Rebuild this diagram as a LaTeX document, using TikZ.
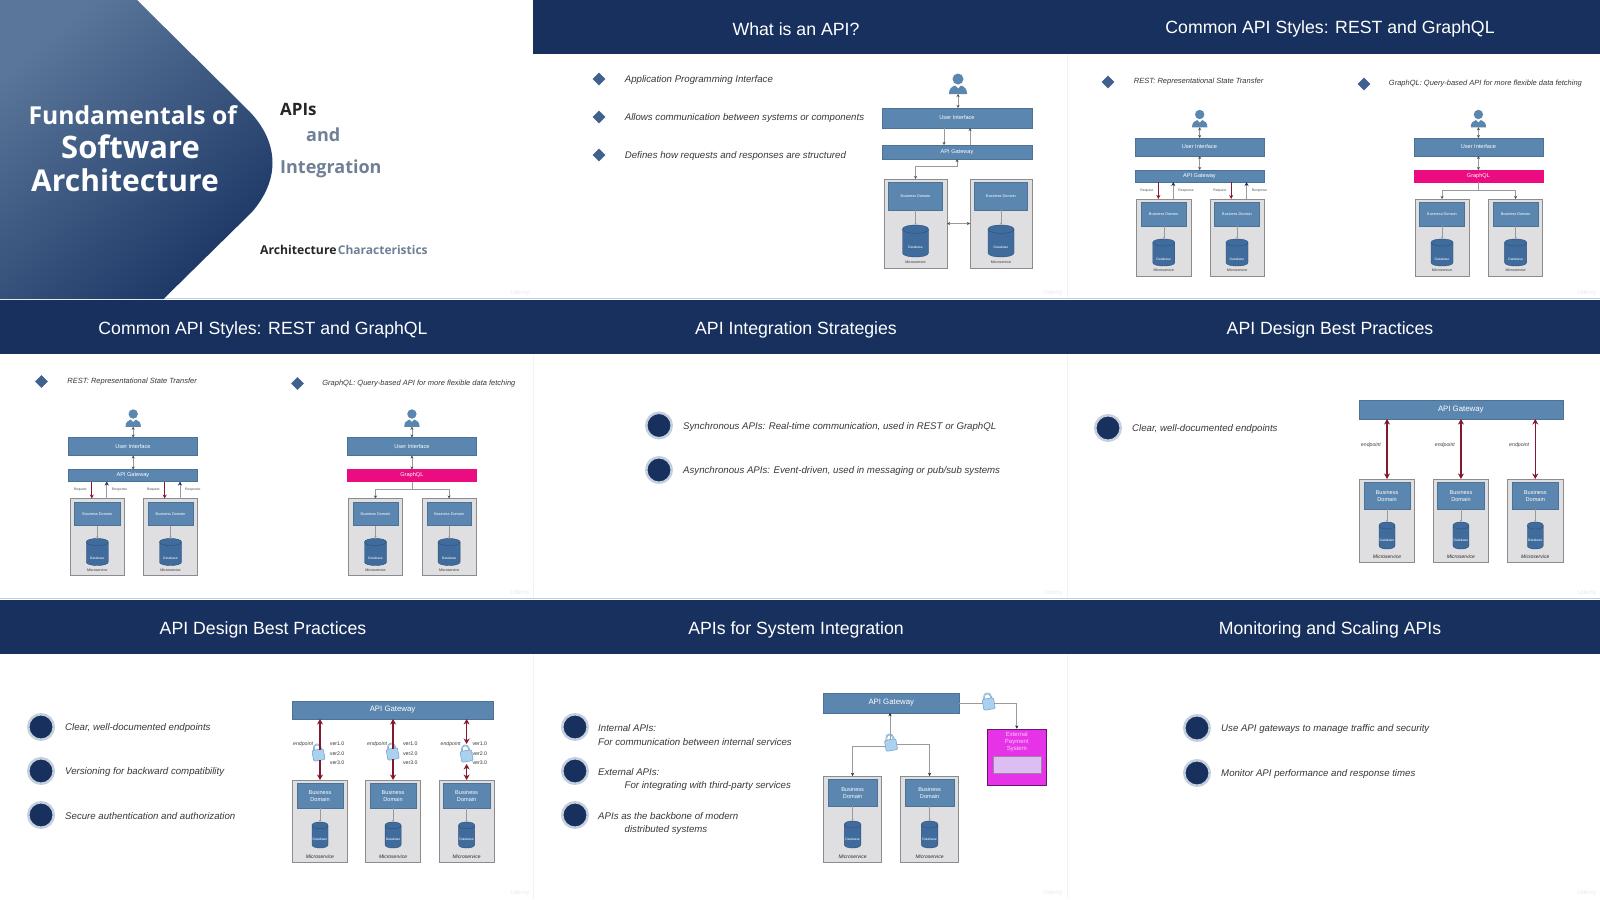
\documentclass[tikz,border=0pt]{standalone}
\usepackage{fontspec}
\setmainfont{Liberation Sans}
\newfontfamily\coverfont{Open Sans}
\usetikzlibrary{arrows.meta,positioning,shapes.geometric}

\definecolor{slidenavy}{HTML}{17305E}
\definecolor{coverlight}{HTML}{5A7699}
\definecolor{coverdark}{HTML}{1C3765}
\definecolor{covergray}{HTML}{6F7F95}
\definecolor{boxblue}{HTML}{5A86B0}
\definecolor{dbblue}{HTML}{3F6B9D}
\definecolor{frameedge}{HTML}{8C8C8E}
\definecolor{framefill}{HTML}{DFDFE1}
\definecolor{ringblue}{HTML}{C4CFDE}
\definecolor{diamondblue}{HTML}{3F618E}
\definecolor{linkgray}{HTML}{9A9A9C}
\definecolor{apired}{HTML}{85182F}
\definecolor{hotpink}{HTML}{EA0C80}
\definecolor{extmagenta}{HTML}{E733E8}
\definecolor{extinner}{HTML}{DDBDF2}
\definecolor{lockblue}{HTML}{AAD2F0}
\definecolor{lockedge}{HTML}{6E9CC6}

\tikzset{
  headband/.style={fill=slidenavy, inner sep=0pt, outer sep=0pt},
  headtext/.style={text=white, font=\fontsize{17.7}{20}\selectfont},
  bulletdot/.style={circle, fill=slidenavy, draw=ringblue, line width=2.5pt, minimum size=25.5pt, inner sep=0pt},
  bulletdiamond/.style={diamond, fill=diamondblue, minimum size=13pt, inner sep=0pt},
  bullettext/.style={anchor=west, inner sep=0pt, yshift=-1pt, text=black!78, font=\fontsize{9.65}{12}\selectfont\itshape},
  smalltext/.style={anchor=west, inner sep=0pt, text=black!78, font=\fontsize{7.5}{10}\selectfont\itshape},
  bluebox/.style={fill=boxblue, draw=boxblue!85!black, line width=.3pt, text=white, inner sep=0pt, outer sep=0pt, align=center},
  msframe/.style={fill=framefill, draw=frameedge, line width=.8pt, inner sep=0pt, outer sep=0pt},
  dbspot/.style={inner sep=0pt, outer sep=0pt},
  dbskin/.style={fill=dbblue, draw=dbblue!75!black, line width=.4pt},
  % tiny type, as on the two-box diagrams
  domlabel/.style={font=\fontsize{3.8}{4.5}\selectfont},
  dblabel/.style={text=white, font=\fontsize{3.4}{4}\selectfont, yshift=-6.5pt},
  mslabel/.style={text=black!80, font=\fontsize{3.6}{4}\selectfont},
  % larger type, as on the gateway diagrams
  bigtype/.style={
    domlabel/.style={font=\fontsize{5.6}{6.8}\selectfont},
    dblabel/.style={text=white, font=\fontsize{3.4}{4}\selectfont, yshift=-4.5pt},
    mslabel/.style={text=black!85, font=\fontsize{5}{6}\selectfont\itshape}},
  boxtext/.style={font=\fontsize{5.6}{6.8}\selectfont},
  gwtext/.style={font=\fontsize{7.8}{9}\selectfont},
  linkarrow/.style={<->, draw=linkgray, line width=.5pt, >={Stealth[length=3pt,width=3pt,color=black!70]}},
  splitline/.style={draw=linkgray, line width=.5pt, >={Stealth[length=3pt,width=3pt,color=black!70]}},
  domarrow/.style={->, draw=linkgray, line width=.35pt, >={Stealth[length=2pt,width=2pt]}},
  redarrow/.style={draw=apired, line width=1.5pt, >={Stealth[length=5.5pt,width=6pt]}},
  reqarrow/.style={->, draw=apired, line width=.8pt, >={Stealth[length=4pt,width=4pt]}},
  resparrow/.style={->, draw=linkgray, line width=.8pt, >={Stealth[length=4pt,width=4pt,color=slidenavy]}},
  grayarrow/.style={draw=linkgray, line width=.7pt, >={Stealth[length=3.2pt,width=3.2pt,color=black!85]}},
  tinylabel/.style={text=black!70, font=\fontsize{3.4}{4}\selectfont},
  endlabel/.style={text=black!75, font=\fontsize{5.2}{6}\selectfont\itshape},
  verlabel/.style={anchor=west, inner sep=0pt, text=black!80, font=\fontsize{5.2}{6}\selectfont},
  lockbody/.style={rectangle, rounded corners=1.2pt, fill=lockblue, draw=lockedge, line width=.5pt,
    minimum width=11.5pt, minimum height=11pt, inner sep=0pt, outer sep=0pt},
  watermark/.style={text=black!8, font=\fontsize{6}{7}\selectfont},
}

% a box given by its corners, in pixels of the slide sheet
\newcommand{\pxbox}[7][]{\node[minimum width={((#5)-(#3))*1pt}, minimum height={((#6)-(#4))*1pt}, #1] (#2) at ({((#3)+(#5))/2},{((#4)+(#6))/2}) {#7};}

% name, x left, x right, y top, y bottom, domain bottom, db top, db bottom, db width
\newcommand{\msbox}[9]{
  \pxbox[msframe]{#1}{#2}{#4}{#3}{#5}{}
  \pxbox[bluebox, domlabel]{#1-dom}{#2+4.5}{#4+3.5}{#3-4.5}{#6}{\domname}
  \node[dbspot, minimum width={(#9)*1pt}, minimum height={((#8)-(#7))*1pt}] (#1-db) at ({((#2)+(#3))/2},{((#7)+(#8))/2}) {};
  \pgfmathsetmacro{\dbcap}{((#8)-(#7))*.13}
  \filldraw[dbskin] ([yshift=-\dbcap pt]#1-db.north west) .. controls ([yshift=\dbcap/3*1pt]#1-db.north west) and ([yshift=\dbcap/3*1pt]#1-db.north east) .. ([yshift=-\dbcap pt]#1-db.north east)
    -- ([yshift=\dbcap pt]#1-db.south east) .. controls ([yshift=-\dbcap/3*1pt]#1-db.south east) and ([yshift=-\dbcap/3*1pt]#1-db.south west) .. ([yshift=\dbcap pt]#1-db.south west) -- cycle;
  \draw[dbskin, fill=none] ([yshift=-\dbcap pt]#1-db.north west) .. controls ([yshift=-\dbcap*7/3*1pt]#1-db.north west) and ([yshift=-\dbcap*7/3*1pt]#1-db.north east) .. ([yshift=-\dbcap pt]#1-db.north east);
  \node[dblabel] (#1-dbname) at (#1-db.center) {Database};
  \node[mslabel] (#1-msname) at ({((#2)+(#3))/2},{(#5)-5.5}) {Microservice};
  \draw[domarrow] (#1-dom.south) -- (#1-db.north);
}

% name, x, y of the head, scale
\newcommand{\usericon}[4]{
  \begin{scope}[shift={(#2,#3)}, scale=#4]
    \fill[boxblue] (-9,15) .. controls (-9,9.5) and (-6.5,8) .. (-3,6.5) -- (0,9.5) -- (3,6.5) .. controls (6.5,8) and (9,9.5) .. (9,15) -- cycle;
    \node[circle, fill=boxblue, minimum size={11pt*#4}, inner sep=0pt] (#1-head) at (0,0) {};
    \coordinate (#1) at (0,15);
  \end{scope}
}

% name, x, y of the body
\newcommand{\lockicon}[3]{
  \begin{scope}[shift={(#2,#3)}, rotate=10]
    \draw[lockedge, line width=1.5pt] (-3.5,0) -- (-3.5,-7) .. controls (-3.5,-12) and (3.5,-12) .. (3.5,-7) -- (3.5,0);
    \draw[lockblue, line width=.7pt] (-3.5,-1) -- (-3.5,-7) .. controls (-3.5,-12) and (3.5,-12) .. (3.5,-7) -- (3.5,-1);
    \node[lockbody, transform shape] (#1) at (0,0) {};
  \end{scope}
}

% the REST and GraphQL slide, it comes twice
\newcommand{\styleslide}{
  \def\domname{Business Domain}
  % left: REST
  \node[bulletdiamond] (rest) at (1108,82) {};
  \node[smalltext, right=19pt of rest] (resttext) {REST: Representational State Transfer};
  \usericon{ruser}{1199.7}{114.5}{.85}
  \pxbox[bluebox, boxtext]{rui}{1134.8}{138}{1264}{156}{User Interface}
  \pxbox[bluebox, boxtext]{rgw}{1134.8}{170}{1264}{182}{API Gateway}
  \msbox{rone}{1136.5}{1191}{199}{276}{226}{239}{266}{22}
  \msbox{rtwo}{1210}{1264}{199}{276}{226}{239}{266}{22}
  \draw[linkarrow] (ruser) -- (rui.north -| ruser);
  \draw[linkarrow] (rui.south -| ruser) -- (rgw.north -| ruser);
  \draw[reqarrow] ([xshift=-5.4pt]rone.north |- rgw.south) -- ([xshift=-5.4pt]rone.north) node[midway, left=1.5pt, tinylabel] {Request};
  \draw[resparrow] ([xshift=9.5pt]rone.north) -- ([xshift=9.5pt]rone.north |- rgw.south) node[midway, right=1.5pt, tinylabel] {Response};
  \draw[reqarrow] ([xshift=-5.8pt]rtwo.north |- rgw.south) -- ([xshift=-5.8pt]rtwo.north) node[midway, left=1.5pt, tinylabel] {Request};
  \draw[resparrow] ([xshift=9.5pt]rtwo.north) -- ([xshift=9.5pt]rtwo.north |- rgw.south) node[midway, right=1.5pt, tinylabel] {Response};

  % right: GraphQL
  \node[bulletdiamond] (gql) at (1364,84) {};
  \node[smalltext, right=18pt of gql] (gqltext) {GraphQL: Query-based API for more flexible data fetching};
  \usericon{guser}{1478.4}{114.5}{.85}
  \pxbox[bluebox, boxtext]{gui}{1413.8}{138}{1543}{156}{User Interface}
  \pxbox[bluebox, boxtext, fill=hotpink, draw=hotpink]{ggw}{1413.8}{170}{1543}{182}{GraphQL}
  \msbox{gone}{1415}{1469}{199}{276}{226}{239}{266}{22}
  \msbox{gtwo}{1488.8}{1542.4}{199}{276}{226}{239}{266}{22}
  \coordinate (gsplit) at (1478.4,190);
  \draw[linkarrow] (guser) -- (gui.north -| guser);
  \draw[linkarrow] (gui.south -| guser) -- (ggw.north -| guser);
  \draw[splitline] (ggw.south -| gsplit) -- (gsplit);
  \draw[splitline, ->] (gsplit) -| (gone.north);
  \draw[splitline, ->] (gsplit) -| (gtwo.north);
}

\begin{document}
\begin{tikzpicture}[x=1pt, y=-1pt, >=Stealth]
  \useasboundingbox (0,0) rectangle (1600,899);
  \fill[white] (0,0) rectangle (1600,899);

  % bands and slide edges
  \pxbox[headband]{bandone}{533}{0}{1600}{54}{}
  \pxbox[headband]{bandtwo}{0}{300}{1600}{354}{}
  \pxbox[headband]{bandthree}{0}{600}{1600}{654}{}
  \draw[ringblue, line width=.8pt] (0,298.8) -- (1600,298.8);
  \draw[ringblue, line width=.8pt] (0,598.8) -- (1600,598.8);
  \draw[black!5, line width=.5pt] (1067,54) -- (1067,298);
  \draw[black!5, line width=.5pt] (533,354) -- (533,598);
  \draw[black!5, line width=.5pt] (1067,354) -- (1067,598);
  \draw[black!5, line width=.5pt] (533,654) -- (533,899);
  \draw[black!5, line width=.5pt] (1067,654) -- (1067,899);

  \node[headtext] (titleapi) at (796,29) {What is an API?};
  \node[headtext] (titlestyles) at (1330,29) {Common API Styles: REST and GraphQL};
  \node[headtext] (titlestylestwo) at (263,329.5) {Common API Styles: REST and GraphQL};
  \node[headtext] (titlestrategies) at (796,329.5) {API Integration Strategies};
  \node[headtext] (titlepractices) at (1330,329.5) {API Design Best Practices};
  \node[headtext] (titlepracticestwo) at (263,629.5) {API Design Best Practices};
  \node[headtext] (titlesystem) at (796,629.5) {APIs for System Integration};
  \node[headtext] (titlemonitor) at (1330,629.5) {Monitoring and Scaling APIs};

  % cover slide
  \shade[top color=coverlight, bottom color=coverdark, shading angle=40] (0,0) -- (137,0) -- (250,112) .. controls (267,130) and (272.5,148) .. (272.5,163) .. controls (272.5,180) and (265,197) .. (252,212) -- (163.5,299) -- (0,299) -- cycle;
  \node[text=white, font=\coverfont\bfseries\fontsize{24.7}{30}\selectfont] (fund) at (132.7,115) {Fundamentals of};
  \node[text=white, font=\coverfont\bfseries\fontsize{31}{32}\selectfont] (soft) at (130.6,147) {Software};
  \node[text=white, font=\coverfont\bfseries\fontsize{30}{32}\selectfont] (arch) at (125,180) {Architecture};
  \node[anchor=west, inner sep=0pt, text=black!85, font=\coverfont\bfseries\fontsize{17}{20}\selectfont] (apis) at (280,109) {APIs};
  \node[anchor=west, inner sep=0pt, text=covergray, font=\coverfont\bfseries\fontsize{18}{20}\selectfont] (and) at (306,135) {and};
  \node[anchor=west, inner sep=0pt, text=covergray, font=\coverfont\bfseries\fontsize{18}{20}\selectfont] (integ) at (280,169) {Integration};
  \node[anchor=west, inner sep=0pt, text=black!85, font=\coverfont\bfseries\fontsize{12.2}{14}\selectfont] (charone) at (260,250) {Architecture};
  \node[anchor=west, inner sep=0pt, text=covergray, font=\coverfont\bfseries\fontsize{12}{14}\selectfont, right=1pt of charone] (chartwo) {Characteristics};

  % what is an API
  \def\domname{Business Domain}
  \node[bulletdiamond] (wone) at (599,79) {};
  \node[bulletdiamond] (wtwo) at (599,117) {};
  \node[bulletdiamond] (wthree) at (599,155) {};
  \node[bullettext, right=19pt of wone] {Application Programming Interface};
  \node[bullettext, right=19pt of wtwo] {Allows communication between systems or components};
  \node[bullettext, right=19pt of wthree] {Defines how requests and responses are structured};
  \usericon{wuser}{958}{79}{1}
  \pxbox[bluebox, boxtext]{wui}{882}{108}{1032}{128}{User Interface}
  \pxbox[bluebox, boxtext]{wgw}{882}{145}{1032}{159}{API Gateway}
  \msbox{wms}{884}{947}{179}{268}{210}{225}{257}{26}
  \msbox{wmt}{970}{1032}{179}{268}{210}{225}{257}{26}
  \coordinate (wbend) at (957,166);
  \draw[linkarrow] (wuser) -- (wui.north -| wuser);
  \draw[linkarrow, <-] ([xshift=13pt]wui.south) -- ([xshift=13pt]wgw.north);
  \draw[linkarrow, ->] ([xshift=-13pt]wui.south) -- ([xshift=-13pt]wgw.north);
  \draw[linkarrow] (wgw.south) -- (wbend) -| (wms.north);
  \draw[linkarrow] (wms.east) -- (wmt.west);

  % styles, both slides
  \begin{scope}[name prefix=c-]
    \styleslide
  \end{scope}
  \begin{scope}[shift={(-1066.5,299.5)}, name prefix=d-]
    \styleslide
  \end{scope}

  % strategies
  \node[bulletdot] (sone) at (659,425.5) {};
  \node[bulletdot] (stwo) at (659,470) {};
  \node[bullettext, right=10pt of sone] {Synchronous APIs: Real-time communication, used in REST or GraphQL};
  \node[bullettext, right=10pt of stwo] {Asynchronous APIs: Event-driven, used in messaging or pub/sub systems};

  % practices, one bullet
  \begin{scope}[bigtype]
    \def\domname{Business\\Domain}
    \node[bulletdot] (pdot) at (1108,428) {};
    \node[bullettext, right=10pt of pdot] {Clear, well-documented endpoints};
    \pxbox[bluebox, gwtext]{pgw}{1358.8}{400}{1562.7}{419}{API Gateway}
    \msbox{pone}{1359.2}{1414.8}{479}{562}{509}{522}{549}{16}
    \msbox{ptwo}{1433.1}{1488.8}{479}{562}{509}{522}{549}{16}
    \msbox{pthree}{1507.4}{1563.1}{479}{562}{509}{522}{549}{16}
    \draw[redarrow, <->] (pgw.south -| pone) -- (pone.north) node[pos=.43, left=2pt, endlabel] {endpoint};
    \draw[redarrow, <->] (pgw.south -| ptwo) -- (ptwo.north) node[pos=.43, left=2pt, endlabel] {endpoint};
    \draw[redarrow, <->] (pgw.south -| pthree) -- (pthree.north) node[pos=.43, left=2pt, endlabel] {endpoint};
  \end{scope}

  % practices, three bullets
  \begin{scope}[bigtype]
    \def\domname{Business\\Domain}
    \node[bulletdot] (qone) at (41,727) {};
    \node[bulletdot] (qtwo) at (41,771) {};
    \node[bulletdot] (qthree) at (41,815) {};
    \node[bullettext, right=10pt of qone] {Clear, well-documented endpoints};
    \node[bullettext, right=10pt of qtwo] {Versioning for backward compatibility};
    \node[bullettext, right=10pt of qthree] {Secure authentication and authorization};
    \pxbox[bluebox, gwtext]{qgw}{291.9}{701}{493.2}{719}{API Gateway}
    \msbox{qa}{292.2}{347.8}{780}{862}{808}{822}{848}{16}
    \msbox{qb}{365.5}{420.6}{780}{862}{808}{822}{848}{16}
    \msbox{qc}{439}{494.2}{780}{862}{808}{822}{848}{16}
    \lockicon{qlocka}{318.5}{755}
    \lockicon{qlockb}{392.7}{754}
    \lockicon{qlockc}{466.6}{756}
    \draw[redarrow, <-] (qgw.south -| qa) -- (qa |- qlocka.north);
    \draw[redarrow, ->] (qa |- qlocka.south) -- (qa.north);
    \draw[redarrow, <-] (qgw.south -| qb) -- (qb |- qlockb.north);
    \draw[redarrow, ->] (qb |- qlockb.south) -- (qb.north);
    \draw[redarrow, <->] (qgw.south -| qc) -- (qc |- 0,744);
    \draw[redarrow, <->] (qc |- 0,764) -- (qc.north);
    \node[endlabel, anchor=east, inner sep=0pt] at (313.3,744) {endpoint};
    \node[endlabel, anchor=east, inner sep=0pt] at (387.3,744) {endpoint};
    \node[endlabel, anchor=east, inner sep=0pt] at (460.8,744) {endpoint};
    \node[verlabel] at (329.7,744) {ver1.0};
    \node[verlabel] at (329.7,754) {ver2.0};
    \node[verlabel] at (329.7,763) {ver3.0};
    \node[verlabel] at (402.9,744) {ver1.0};
    \node[verlabel] at (402.9,754) {ver2.0};
    \node[verlabel] at (402.9,763) {ver3.0};
    \node[verlabel] at (472.4,744) {ver1.0};
    \node[verlabel] at (472.4,754) {ver2.0};
    \node[verlabel] at (472.4,763) {ver3.0};
  \end{scope}

  % system integration
  \begin{scope}[bigtype]
    \def\domname{Business\\Domain}
    \node[bulletdot] (ione) at (575,727) {};
    \node[bulletdot] (itwo) at (575,771) {};
    \node[bulletdot] (ithree) at (575,815) {};
    \node[bullettext] at (598,727) {Internal APIs:};
    \node[bullettext] at (598,741) {For communication between internal services};
    \node[bullettext] at (598,771) {External APIs:};
    \node[bullettext] at (624.5,785) {For integrating with third-party services};
    \node[bullettext] at (598,815) {APIs as the backbone of modern};
    \node[bullettext] at (624.5,829) {distributed systems};
    \pxbox[bluebox, gwtext]{igw}{823.5}{693}{959}{713}{API Gateway}
    \msbox{ia}{823.5}{881.7}{776}{862}{806}{821}{848}{16.5}
    \msbox{ib}{900.5}{958.7}{776}{862}{806}{821}{848}{16.5}
    \pxbox[fill=extmagenta, draw=black!55!extmagenta, line width=.7pt, inner sep=0pt]{iext}{987.7}{729}{1045.9}{785}{}
    \pxbox[fill=extinner, draw=extinner!70!black, line width=.3pt, inner sep=0pt]{iinner}{992.8}{756}{1041.5}{773}{}
    \node[text=white!75!extmagenta, font=\fontsize{6}{7.2}\selectfont, align=center, anchor=north] (iname) at (iext.north) {External\\Payment\\System};
    \lockicon{ilock}{891}{745}
    \lockicon{ilockb}{988.7}{704}
    \draw[grayarrow, ->] (ilock.north) -- (ilock.north |- igw.south);
    \draw[grayarrow, ->] (ilock.west) -| (ia.north);
    \draw[grayarrow, ->] (ilock.east) -| (ib.north);
    \draw[grayarrow] (igw.east) -- (igw.east -| ilockb.west);
    \draw[grayarrow, ->] (ilockb.east |- igw.east) -| (iext.north);
  \end{scope}

  % monitoring
  \node[bulletdot] (mone) at (1197,728) {};
  \node[bulletdot] (mtwo) at (1197,773) {};
  \node[bullettext, right=10pt of mone] {Use API gateways to manage traffic and security};
  \node[bullettext, right=10pt of mtwo] {Monitor API performance and response times};

  % faint marks in the corners
  \node[watermark] (marka) at (520,293) {Udemy};
  \node[watermark] (markb) at (1053,293) {Udemy};
  \node[watermark] (markc) at (1587,293) {Udemy};
  \node[watermark] (markd) at (520,593) {Udemy};
  \node[watermark] (marke) at (1053,593) {Udemy};
  \node[watermark] (markf) at (1587,593) {Udemy};
  \node[watermark] (markg) at (520,893) {Udemy};
  \node[watermark] (markh) at (1053,893) {Udemy};
  \node[watermark] (marki) at (1587,893) {Udemy};
\end{tikzpicture}
\end{document}
